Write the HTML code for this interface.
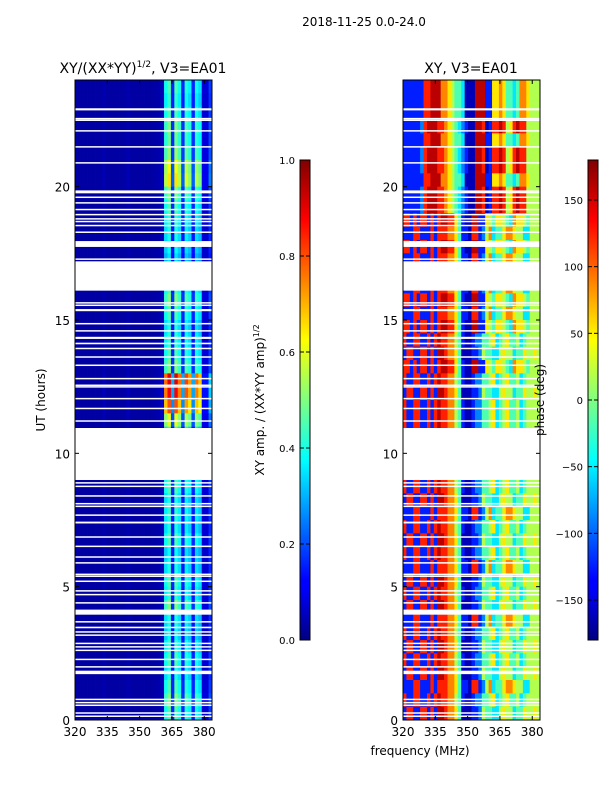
<!DOCTYPE html>
<html><head><meta charset="utf-8"><style>
html,body{margin:0;padding:0;background:#fff;}
svg{display:block;font-family:"DejaVu Sans","Liberation Sans",sans-serif;}
</style></head><body>
<svg id="fig" width="600" height="800" viewBox="0 0 600 800" xmlns="http://www.w3.org/2000/svg">
<defs>
<linearGradient id="jetv" x1="0" y1="1" x2="0" y2="0">
<stop offset="0" stop-color="#000080"/><stop offset="0.11" stop-color="#0000ff"/><stop offset="0.125" stop-color="#0000ff"/>
<stop offset="0.375" stop-color="#00ffff"/><stop offset="0.5" stop-color="#80ff80"/><stop offset="0.625" stop-color="#ffff00"/>
<stop offset="0.875" stop-color="#ff0000"/><stop offset="1" stop-color="#800000"/>
</linearGradient>
</defs>
<text x="364" y="26" font-size="12" text-anchor="middle">2018-11-25 0.0-24.0</text>
<text x="143" y="73" font-size="14" text-anchor="middle">XY/(XX*YY)<tspan font-size="9" dy="-6">1/2</tspan><tspan dy="6">, V3=EA01</tspan></text>
<text x="471" y="73" font-size="14" text-anchor="middle">XY, V3=EA01</text>
<g id="left-cells"></g>
<g id="right-cells"></g>
<g id="gaps"></g>
<g id="axes"></g>
<text transform="translate(45,400) rotate(-90)" font-size="12" text-anchor="middle">UT (hours)</text>
<text x="420" y="755" font-size="12" text-anchor="middle">frequency (MHz)</text>
<rect x="300" y="160" width="10" height="480" fill="url(#jetv)" stroke="#000" stroke-width="1"/>
<rect x="588" y="160" width="10" height="480" fill="url(#jetv)" stroke="#000" stroke-width="1"/>
<text transform="translate(264,400) rotate(-90)" font-size="12" text-anchor="middle">XY amp. / (XX*YY amp)<tspan font-size="8" dy="-5">1/2</tspan></text>
<text transform="translate(544,400) rotate(-90)" font-size="12" text-anchor="middle">phase (deg)</text>
<g id="cbticks"></g>
</svg>
<script>
var NS="http://www.w3.org/2000/svg";
// ---- data ----
var hourRange=[0,24];
var freqRange=[320,383.6];
var xTicks=[320,335,350,365,380];
var yTicks=[0,5,10,15,20];
var ampTicks=[0.0,0.2,0.4,0.6,0.8,1.0];
var phaseTicks=[-150,-100,-50,0,50,100,150];
var nCols=40;
var ampColWeight=[0.0,0.0,0.0,0.0,0.0,0.0,0.0,0.0,0.03,0.0,0.0,0.0,0.0,0.0,0.0,0.03,0.0,0.0,0.0,0.0,0.0,0.0,0.0,0.01,0.02,0.05,0.85,1,0.3,1,0.85,0.3,0.9,0.8,0.3,0.85,0.75,0.12,0.12,0.35];
var ampRowPeak=[0.45,0.42,0.45,0.5,0.48,0.52,0.62,0.65,0.5,0.45,0.42,0.4,0.38,0.35,0.4,0.45,0.5,0.45,0.4,0.42,0.45,0.5,0.9,0.88,0.8,0.6,0.4,0.4,0.4,0.4,0.45,0.4,0.42,0.4,0.45,0.38,0.4,0.45,0.42,0.5,0.4,0.38,0.42,0.45,0.4,0.45,0.5,0.45];
var phaseProfiles={
A:"1111118899977654430009991166764434776555",
A2:"1111128999887654321009980188985689885555",
B:"8818188181899886410099116546654376654555",
B2:"1118811181888776411088125734467765533555",
C:"8118811818988775410012244563456445345555",
C2:"1881188181998776400011254433565534465565"
};
var phaseRowProfile=["A","A","A","A2","A","A2","A2","A","A2","A2","B","B2","B","B2","B","B2","B","B2","B","C","C2","B","C","C2","C","C","C","C","C","C","C","C2","B2","C","C2","C","B2","C2","C","C2","B2","C","C2","C","C2","B2","C","C2"];
var gapHours=[[22.86,22.94],[22.54,22.58],[22.48,22.52],[22.08,22.12],[21.48,21.52],[20.88,20.92],[19.75,19.86],[19.58,19.63],[19.38,19.42],[19.13,19.17],[18.94,18.98],[18.78,18.82],[18.68,18.72],[18.53,18.57],[18.28,18.32],[17.74,17.96],[17.27,17.31],[16.1,17.2],[15.63,15.67],[15.54,15.58],[15.33,15.41],[14.85,14.89],[14.58,14.62],[14.29,14.37],[14.09,14.15],[13.92,13.96],[13.6,13.64],[13.29,13.33],[12.79,12.83],[12.54,12.58],[12.48,12.52],[12.04,12.08],[11.67,11.71],[11.2,11.24],[9.0,10.95],[8.88,8.92],[8.75,8.79],[8.39,8.43],[8.1,8.14],[8.0,8.04],[7.67,7.71],[7.37,7.44],[6.85,6.89],[6.5,6.54],[6.1,6.14],[5.88,5.92],[5.45,5.49],[5.38,5.42],[5.19,5.23],[4.83,4.87],[4.69,4.73],[4.38,4.42],[3.95,4.14],[3.67,3.71],[3.44,3.5],[3.29,3.33],[3.17,3.21],[2.86,2.9],[2.73,2.77],[2.6,2.64],[2.26,2.3],[1.98,2.02],[1.72,1.85],[0.76,0.8],[0.64,0.68],[0.54,0.58],[0.25,0.29],[0.13,0.17]];
// ---- layout ----
var panels=[{x0:75,x1:212,name:"left"},{x0:403,x1:540,name:"right"}];
var yTop=80,yBot=720,cbTop=160,cbBot=640;
function yScale(h){return yBot-(h-hourRange[0])/(hourRange[1]-hourRange[0])*(yBot-yTop);}
function xScale(p,f){return p.x0+(f-freqRange[0])/(freqRange[1]-freqRange[0])*(p.x1-p.x0);}
function jet(t){t=Math.max(0,Math.min(1,t));function c(v){return Math.round(255*Math.max(0,Math.min(1,v)));}
return "rgb("+c(1.5-Math.abs(4*t-3))+","+c(1.5-Math.abs(4*t-2))+","+c(1.5-Math.abs(4*t-1))+")";}
function mk(tag,attrs,parent){var e=document.createElementNS(NS,tag);for(var k in attrs)e.setAttribute(k,attrs[k]);parent.appendChild(e);return e;}
var nRows=ampRowPeak.length;
var rowH=(hourRange[1]-hourRange[0])/nRows;
var chW=(freqRange[1]-freqRange[0])/nCols;
var gL=document.getElementById("left-cells"),gR=document.getElementById("right-cells");
for(var r=0;r<nRows;r++){
  var hTop=hourRange[1]-r*rowH,hB=hTop-rowH;
  var prof=phaseProfiles[phaseRowProfile[r]];
  for(var c=0;c<nCols;c++){
    var f0=freqRange[0]+c*chW,f1=f0+chW;
    var v=0.035+(ampRowPeak[r]-0.035)*ampColWeight[c];
    var xa=xScale(panels[0],f0),xb=xScale(panels[0],f1);
    var e=mk("rect",{x:xa.toFixed(2),y:yScale(hTop).toFixed(2),width:(xb-xa+0.4).toFixed(2),height:(yScale(hB)-yScale(hTop)+0.4).toFixed(2),fill:jet(v)},gL);
    
    
    var ph=-160+parseInt(prof.charAt(c))*35.5;
    xa=xScale(panels[1],f0);xb=xScale(panels[1],f1);
    var e2=mk("rect",{x:xa.toFixed(2),y:yScale(hTop).toFixed(2),width:(xb-xa+0.4).toFixed(2),height:(yScale(hB)-yScale(hTop)+0.4).toFixed(2),fill:jet((ph+180)/360)},gR);
    
    
  }
}
var gG=document.getElementById("gaps");
gapHours.forEach(function(g){panels.forEach(function(p){
  var y1=yScale(g[1]),y2=yScale(g[0]);
  var e=mk("rect",{x:p.x0,y:y1.toFixed(2),width:p.x1-p.x0,height:Math.max(1.5,y2-y1).toFixed(2),fill:"#fff"},gG);
  
  
});});
var gA=document.getElementById("axes");
panels.forEach(function(p){
  var fr=mk("rect",{x:p.x0,y:yTop,width:p.x1-p.x0,height:yBot-yTop,fill:"none",stroke:"#000","stroke-width":1},gA);
  
  
  xTicks.forEach(function(t){var x=xScale(p,t);
    mk("line",{x1:x,x2:x,y1:yBot,y2:yBot-4,stroke:"#000"},gA);
    mk("line",{x1:x,x2:x,y1:yTop,y2:yTop+4,stroke:"#000"},gA);
    var tx=mk("text",{x:x,y:yBot+16,"font-size":12,"text-anchor":"middle"},gA);tx.textContent=t;
    
    
  });
  yTicks.forEach(function(t){var y=yScale(t);
    mk("line",{x1:p.x0,x2:p.x0+4,y1:y,y2:y,stroke:"#000"},gA);
    mk("line",{x1:p.x1,x2:p.x1-4,y1:y,y2:y,stroke:"#000"},gA);
    var tx=mk("text",{x:p.x0-5,y:y+5,"font-size":12,"text-anchor":"end"},gA);tx.textContent=t;
    
    
  });
});
var gC=document.getElementById("cbticks");
ampTicks.forEach(function(t){var y=cbBot-t*(cbBot-cbTop);
  mk("line",{x1:300,x2:304,y1:y,y2:y,stroke:"#000"},gC);mk("line",{x1:306,x2:310,y1:y,y2:y,stroke:"#000"},gC);
  var tx=mk("text",{x:295,y:y+4,"font-size":10,"text-anchor":"end"},gC);tx.textContent=t.toFixed(1);
  
  
});
phaseTicks.forEach(function(t){var y=cbBot-(t+180)/360*(cbBot-cbTop);
  mk("line",{x1:588,x2:592,y1:y,y2:y,stroke:"#000"},gC);mk("line",{x1:594,x2:598,y1:y,y2:y,stroke:"#000"},gC);
  var tx=mk("text",{x:583,y:y+4,"font-size":10,"text-anchor":"end"},gC);tx.textContent=(t<0?"\u2212"+(-t):t);
  
  
});
</script>
</body></html>
